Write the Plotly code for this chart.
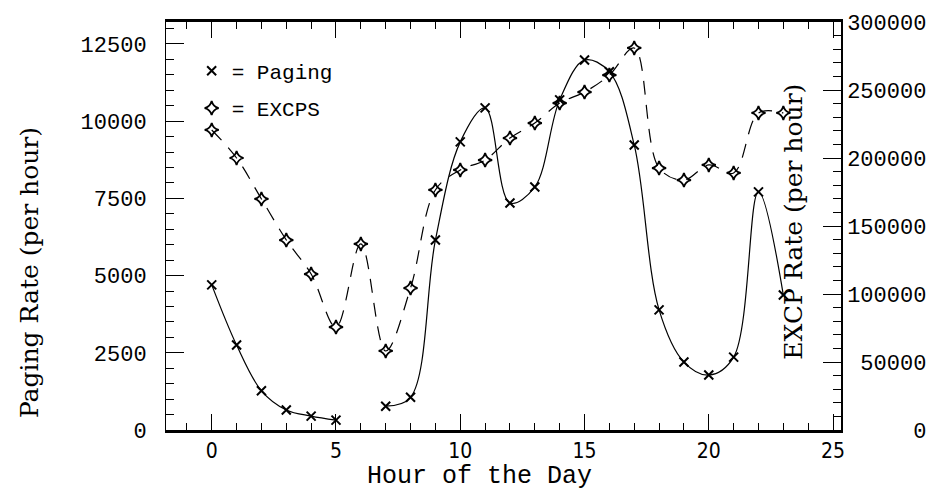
import plotly.graph_objects as go

hours = list(range(24))
paging = [4700, 2750, 1270, 650, 450, 320, None, 770, 1060, 6150, 9330, 10430,
          7350, 7870, 10690, 11980, 11600, 9230, 3890, 2200, 1780, 2360, 7710, 4370]
excps = [220600, 200000, 169900, 139700, 114700, 75700, 136800, 58100, 104400,
         176500, 191200, 198500, 214700, 225700, 240400, 248500, 261000, 280900,
         192600, 183800, 194900, 189000, 233100, 233100]

x_ticks = [0, 5, 10, 15, 20, 25]
left_ticks = [0, 2500, 5000, 7500, 10000, 12500]
right_ticks = [0, 50000, 100000, 150000, 200000, 250000, 300000]

NB = "\u00a0"
right_text = [NB * (6 - len(str(v))) + str(v) for v in right_ticks]

fig = go.Figure()

fig.add_trace(go.Scatter(
    x=hours, y=paging, mode="lines+markers", showlegend=False,
    line=dict(color="black", width=1.2, shape="spline", smoothing=1.0),
    marker=dict(symbol="x-thin", size=9, line=dict(color="black", width=2)),
    connectgaps=False, yaxis="y"))

fig.add_trace(go.Scatter(
    x=hours, y=excps, mode="lines+markers", showlegend=False,
    line=dict(color="black", width=1.2, shape="spline", smoothing=1.0, dash="14px,10px"),
    marker=dict(symbol="star-diamond-open", size=10, color="black",
                line=dict(color="black", width=1.8)),
    yaxis="y2"))

# legend-only entries (marker glyph only)
fig.add_trace(go.Scatter(
    x=[None], y=[None], mode="markers", name="= Paging", legendgroup="a",
    marker=dict(symbol="x-thin", size=9, line=dict(color="black", width=2))))
fig.add_trace(go.Scatter(
    x=[None], y=[None], mode="markers", name="= EXCPS", legendgroup="b",
    marker=dict(symbol="star-diamond-open", size=10, color="black",
                line=dict(color="black", width=1.8))))

mono = "Liberation Mono, Courier New, monospace"
serif = "DejaVu Serif, serif"

fig.update_layout(
    width=938, height=493,
    margin=dict(l=166, r=93, t=22, b=63),
    paper_bgcolor="white", plot_bgcolor="white",
    showlegend=True,
    legend=dict(x=0.038, y=0.93, xanchor="left", yanchor="top",
                font=dict(family=mono, size=21, color="black"),
                bgcolor="rgba(0,0,0,0)", traceorder="grouped", tracegroupgap=7,
                itemwidth=30),
    xaxis=dict(range=[-1.84, 25.32], tickvals=x_ticks,
               ticktext=[str(v) for v in x_ticks],
               ticks="inside", ticklen=16, tickwidth=1, tickcolor="black",
               minor=dict(dtick=1, tick0=0, ticks="inside", ticklen=7, tickcolor="black"),
               showline=True, linewidth=3, linecolor="black", mirror="ticks",
               showgrid=False, zeroline=False, ticklabelstandoff=0,
               tickfont=dict(family="Liberation Sans Narrow, DejaVu Sans Condensed, sans-serif",
                             size=21, color="black")),
    yaxis=dict(range=[0, 13212], tickvals=left_ticks,
               ticktext=[str(v) for v in left_ticks],
               ticks="inside", ticklen=18, tickwidth=1, tickcolor="black",
               minor=dict(dtick=500, tick0=0, ticks="inside", ticklen=8, tickcolor="black"),
               showline=True, linewidth=1, linecolor="black",
               showgrid=False, zeroline=False, ticklabelstandoff=14,
               tickfont=dict(family=mono, size=22, color="black")),
    yaxis2=dict(range=[0, 300000], overlaying="y", side="right",
                tickvals=right_ticks, ticktext=right_text,
                ticks="inside", ticklen=18, tickwidth=1, tickcolor="black",
                minor=dict(dtick=10000, tick0=0, ticks="inside", ticklen=8, tickcolor="black"),
                showline=True, linewidth=1.5, linecolor="black",
                showgrid=False, zeroline=False,
                tickfont=dict(family=mono, size=22, color="black")),
    annotations=[
        dict(text="Hour of the Day", xref="paper", yref="paper", x=0.464, y=-0.115,
             xanchor="center", yanchor="middle", showarrow=False,
             font=dict(family=mono, size=25, color="black")),
        dict(text="Paging Rate (per hour)", xref="paper", yref="paper", x=-0.203, y=0.387,
             xanchor="center", yanchor="middle", showarrow=False, textangle=-90,
             font=dict(family=serif, size=25, color="black")),
        dict(text="EXCP Rate (per hour)", xref="paper", yref="paper", x=0.93, y=0.51,
             xanchor="center", yanchor="middle", showarrow=False, textangle=-90,
             font=dict(family=serif, size=25, color="black")),
    ],
)

fig.write_html("out.html")
